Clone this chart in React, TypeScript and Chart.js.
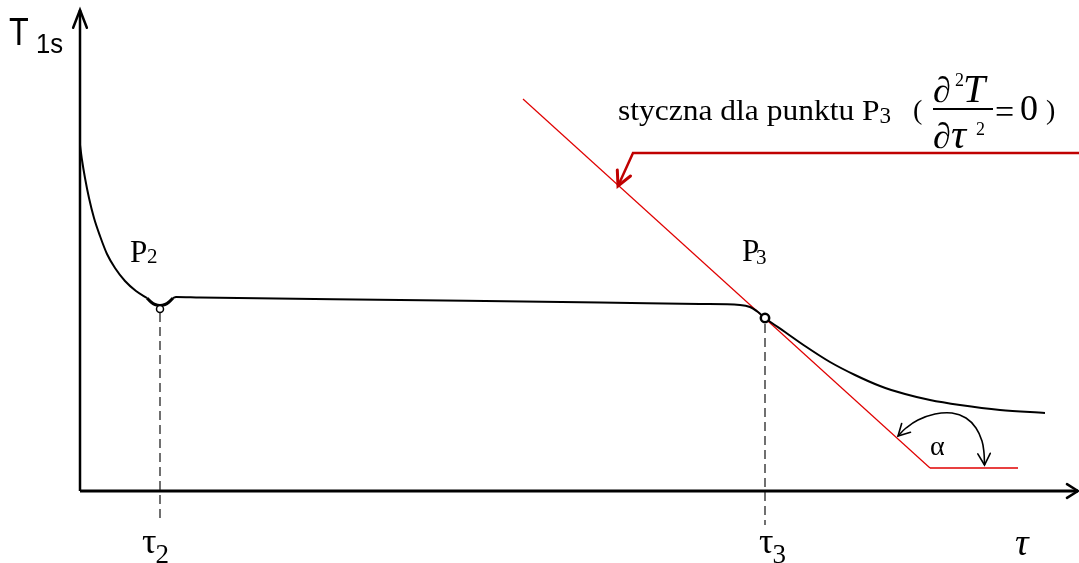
import React, { useEffect, useRef } from "react";
import { Chart, registerables } from "chart.js";

Chart.register(...registerables);

type Pt = { x: number; y: number };
const toPts = (a: number[][]): Pt[] => a.map(([x, y]) => ({ x, y }));

// Time axis (τ) and temperature axis (T1s) share one frame; origin at the axis corner.
const X_RANGE = [-80, 999];
const Y_RANGE = [-72, 491];

// Cooling curve T1s(τ)
const curveFall = [
  [0, 346], [2, 331], [5, 313], [9, 293], [14, 273], [20, 255], [27, 237],
  [35, 223], [45, 210], [56, 200], [67, 193],
];
const curveDipP2 = [
  [67, 193], [71, 189], [75, 186.5], [80, 185.5], [85, 186.5], [89, 189], [93, 193],
];
const curvePlateau = [
  [93, 193], [96, 194], [120, 193.5], [320, 191], [520, 188.5], [620, 187],
  [660, 186], [670, 184], [678, 179], [685, 173], [705, 159], [725, 145],
  [750, 129], [775, 116], [800, 105], [825, 97], [850, 91], [880, 86],
  [920, 81], [965, 78],
];

// Characteristic points
const pointP2 = [80, 182];
const pointP3 = [685, 173];

// Tangent through P3 and its horizontal reference for angle α
const tangentP3 = [[443, 392], [850, 23]];
const alphaBase = [[850, 23], [938, 23]];
const alphaArc = [
  [818, 55], [826, 63], [838, 71], [855, 77], [872, 78], [886, 73],
  [896, 63], [902, 50], [904, 38], [904.5, 26],
];

// Leader line pointing at the tangent
const leader = [[999, 338], [553, 338], [538, 305]];

// Axes and drop lines to τ2, τ3
const axisT = [[0, 0], [0, 481]];
const axisTau = [[0, 0], [998, 0]];
const dropTau2 = [[80, 178], [80, -31]];
const dropTau3 = [[685, 167], [685, -34]];

// Tick labels on the time axis
const tauTickPos = [62, 679];
const tauTickSub = ["2", "3"];

const SERIF = '"Liberation Serif", "Times New Roman", serif';
const SANS = '"Liberation Sans", Arial, sans-serif';

const arrows: Record<string, { end: "first" | "last"; len: number; spread: number; width: number; color: string }> = {
  axisT: { end: "last", len: 19, spread: 0.37, width: 2.5, color: "#000" },
  axisTau: { end: "last", len: 13, spread: 0.56, width: 2.5, color: "#000" },
  leader: { end: "last", len: 16, spread: 0.47, width: 3, color: "#c00000" },
  alphaStart: { end: "first", len: 13, spread: 0.5, width: 1.6, color: "#000" },
  alphaEnd: { end: "last", len: 13, spread: 0.5, width: 1.6, color: "#000" },
};

function drawHead(ctx: CanvasRenderingContext2D, tx: number, ty: number, fx: number, fy: number, len: number, spread: number, color: string, width: number) {
  const a = Math.atan2(ty - fy, tx - fx);
  ctx.save();
  ctx.strokeStyle = color;
  ctx.lineWidth = width;
  ctx.lineCap = "round";
  ctx.lineJoin = "miter";
  ctx.beginPath();
  ctx.moveTo(tx - len * Math.cos(a - spread), ty - len * Math.sin(a - spread));
  ctx.lineTo(tx, ty);
  ctx.lineTo(tx - len * Math.cos(a + spread), ty - len * Math.sin(a + spread));
  ctx.stroke();
  ctx.restore();
}

const decorations = {
  id: "decorations",
  afterDatasetsDraw(chart: any) {
    const ctx: CanvasRenderingContext2D = chart.ctx;
    const sx = chart.scales.x;
    const sy = chart.scales.y;
    const px = (v: number) => sx.getPixelForValue(v);
    const py = (v: number) => sy.getPixelForValue(v);

    // arrow heads
    chart.data.datasets.forEach((ds: any, i: number) => {
      const keys = ds.label === "alphaArc" ? ["alphaStart", "alphaEnd"] : [ds.label];
      keys.forEach((k: string) => {
        const spec = arrows[k];
        if (!spec) return;
        const els = chart.getDatasetMeta(i).data;
        const n = els.length;
        const tip = spec.end === "last" ? els[n - 1] : els[0];
        const from = spec.end === "last" ? els[n - 2] : els[1];
        drawHead(ctx, tip.x, tip.y, from.x, from.y, spec.len, spec.spread, spec.color, spec.width);
      });
    });

    const text = (s: string, x: number, y: number, font: string, opts: { italic?: boolean; stretch?: number } = {}) => {
      const k = opts.stretch ?? 1;
      ctx.font = (opts.italic ? "italic " : "") + font;
      ctx.save();
      ctx.translate(px(x), py(y));
      ctx.scale(k, 1);
      ctx.fillText(s, 0, 0);
      ctx.restore();
      return ctx.measureText(s).width * k;
    };

    ctx.save();
    ctx.fillStyle = "#000";
    ctx.textAlign = "left";
    ctx.textBaseline = "alphabetic";

    // axis title T1s
    text("T", -71, 446, `38px ${SANS}`, { stretch: 0.85 });
    text("1s", -44, 438, `27px ${SANS}`, { stretch: 0.95 });

    // P2, P3
    text("P", 50, 229, `31px ${SERIF}`);
    text("2", 67, 228, `21px ${SERIF}`);
    text("P", 662, 230, `31px ${SERIF}`);
    text("3", 676, 227, `21px ${SERIF}`);

    // leader caption
    const w = text("styczna dla punktu P", 538, 371, `30px ${SERIF}`, { stretch: 1.05 });
    ctx.font = `23px ${SERIF}`;
    ctx.fillText("3", px(538) + w, py(368));
    text("(", 833, 372, `28px ${SERIF}`);

    // fraction ∂²T / ∂τ²
    text("\u2202", 853, 389, `36px ${SERIF}`, { italic: true });
    text("2", 875, 405, `18px ${SERIF}`);
    text("T", 883, 389, `40px ${SERIF}`, { italic: true });
    ctx.save();
    ctx.strokeStyle = "#000";
    ctx.lineWidth = 2;
    ctx.beginPath();
    ctx.moveTo(px(853), py(382));
    ctx.lineTo(px(913), py(382));
    ctx.stroke();
    ctx.restore();
    text("\u2202", 853, 343, `36px ${SERIF}`, { italic: true });
    text("\u03c4", 871, 343, `42px ${SERIF}`, { italic: true });
    text("2", 896, 356, `18px ${SERIF}`);
    text("=", 915, 368, `34px ${SERIF}`);
    text("0", 940, 371, `36px ${SERIF}`);
    text(")", 966, 372, `28px ${SERIF}`);

    // angle α
    text("\u03b1", 850, 36, `28px ${SERIF}`);

    // τ ticks
    tauTickPos.forEach((x, i) => {
      const tw = text("\u03c4", x, -62, `36px ${SERIF}`);
      ctx.font = `27px ${SERIF}`;
      ctx.fillText(tauTickSub[i], px(x) + tw - 1, py(-72));
    });
    text("\u03c4", 935, -64, `38px ${SERIF}`, { italic: true });

    ctx.restore();
  },
};

function line(label: string, data: number[][], color: string, width: number, extra: any = {}) {
  return {
    label,
    data: toPts(data),
    showLine: true,
    borderColor: color,
    borderWidth: width,
    pointRadius: 0,
    pointHoverRadius: 0,
    tension: 0,
    fill: false,
    clip: false,
    ...extra,
  };
}

function marker(label: string, p: number[], radius: number, width: number) {
  return {
    label,
    data: toPts([p]),
    showLine: false,
    pointRadius: radius,
    pointBorderWidth: width,
    pointBackgroundColor: "#fff",
    pointBorderColor: "#000",
    clip: false,
  };
}

export default function App() {
  const ref = useRef<HTMLCanvasElement>(null);

  useEffect(() => {
    if (!ref.current) return;
    const chart = new Chart(ref.current, {
      type: "scatter",
      data: {
        datasets: [
          marker("P2", pointP2, 3.5, 1.5),
          marker("P3", pointP3, 4.2, 2.5),
          line("curveFall", curveFall, "#000", 2, { cubicInterpolationMode: "monotone" }),
          line("curveDipP2", curveDipP2, "#000", 3, { tension: 0.4 }),
          line("curvePlateau", curvePlateau, "#000", 2, { cubicInterpolationMode: "monotone" }),
          line("tangentP3", tangentP3, "#e00000", 1.2),
          line("alphaBase", alphaBase, "#e00000", 1.5),
          line("alphaArc", alphaArc, "#000", 1.6, { tension: 0.4 }),
          line("leader", leader, "#c00000", 2.5),
          line("dropTau2", dropTau2, "#111", 1.2, { borderDash: [9, 5] }),
          line("dropTau3", dropTau3, "#111", 1.2, { borderDash: [9, 5] }),
          line("axisT", axisT, "#000", 2.5),
          line("axisTau", axisTau, "#000", 3),
        ] as any,
      },
      options: {
        animation: false,
        responsive: false,
        devicePixelRatio: 1,
        layout: { padding: 0, autoPadding: false },
        events: [],
        scales: {
          x: { type: "linear", min: X_RANGE[0], max: X_RANGE[1], display: false },
          y: { type: "linear", min: Y_RANGE[0], max: Y_RANGE[1], display: false },
        },
        plugins: {
          legend: { display: false },
          tooltip: { enabled: false },
        },
      } as any,
      plugins: [decorations],
    });
    return () => chart.destroy();
  }, []);

  return (
    <div style={{ position: "absolute", left: 0, top: 0, width: 1079, height: 563, background: "#fff" }}>
      <canvas ref={ref} width={1079} height={563} style={{ display: "block" }} />
    </div>
  );
}
